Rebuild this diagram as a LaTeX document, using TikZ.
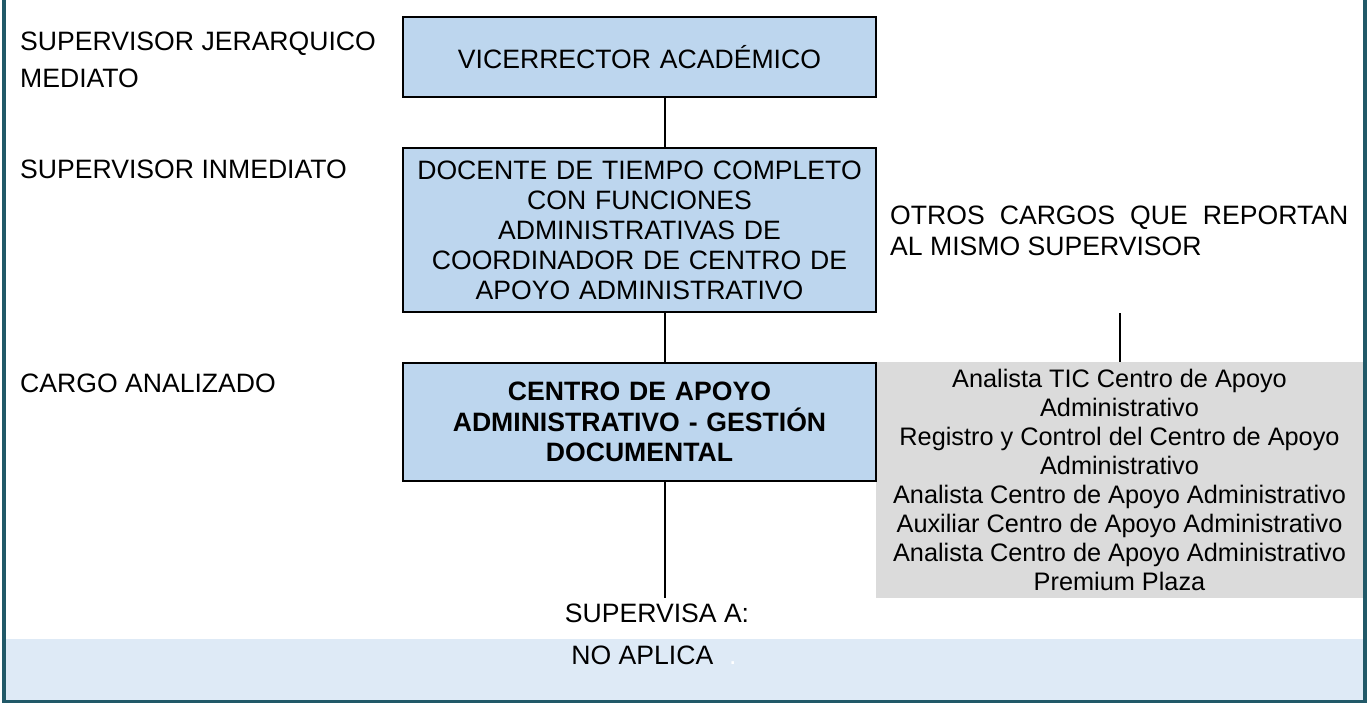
\documentclass[tikz,border=0pt]{standalone}
\usepackage{fontspec}
\setmainfont{Liberation Sans}
\usepackage{tikz}
\usetikzlibrary{positioning}
\definecolor{frameteal}{RGB}{33,89,104}
\definecolor{boxblue}{RGB}{189,214,238}
\definecolor{bandblue}{RGB}{222,234,246}
\definecolor{softgray}{RGB}{219,219,219}

\begin{document}
\begin{tikzpicture}[x=1pt, y=1pt,
  posbox/.style={draw=black, line width=2pt, fill=boxblue, text width=460pt, inner xsep=6.5pt, inner ysep=0pt, minimum width=473pt, align=center, font=\fontsize{26.6}{30}\selectfont},
  lbl/.style={inner sep=0pt, align=left, font=\fontsize{26.6}{37}\selectfont},
  link/.style={line width=2pt}]
  \useasboundingbox (0,0) rectangle (1367,702);
  % bottom band and frame
  \fill[bandblue] (6,2) rectangle (1363,63);
  \draw[frameteal, line width=4pt] (4,702) -- (4,0) -- (1365,0) -- (1365,702);
  % left column
  \node[lbl, anchor=north west] (mediato) at (20,670) {SUPERVISOR JERARQUICO\\MEDIATO};
  \node[lbl, anchor=base west] (inmediato) at (20,523) {SUPERVISOR INMEDIATO};
  \node[lbl, anchor=base west] (analizado) at (20,309) {CARGO ANALIZADO};
  % other positions
  \node[lbl, anchor=north west, font=\fontsize{26.6}{31}\selectfont] (otroscargos) at (890,496) {\makebox[458pt][s]{OTROS CARGOS QUE REPORTAN}\\AL MISMO SUPERVISOR};
  \node[fill=softgray, minimum width=487pt, minimum height=236pt, inner sep=0pt] (otros) at (1119.5,222) {};
  \node[below=7pt of otros.north, inner sep=0pt, align=center, font=\fontsize{25.3}{29}\selectfont] (otroslist) {Analista TIC Centro de Apoyo\\Administrativo\\Registro y Control del Centro de Apoyo\\Administrativo\\Analista Centro de Apoyo Administrativo\\Auxiliar Centro de Apoyo Administrativo\\Analista Centro de Apoyo Administrativo\\Premium Plaza};
  % chain of boxes
  \node[posbox, minimum height=80pt] (vicerrector) at (639.5,645) {VICERRECTOR ACADÉMICO};
  \node[posbox, minimum height=164pt] (docente) at (639.5,472) {DOCENTE DE TIEMPO COMPLETO\\CON FUNCIONES\\ADMINISTRATIVAS DE\\COORDINADOR DE CENTRO DE\\APOYO ADMINISTRATIVO};
  \node[posbox, minimum height=118pt, font=\fontsize{26.6}{30.5}\selectfont\bfseries] (cargo) at (639.5,280) {CENTRO DE APOYO\\ADMINISTRATIVO - GESTIÓN\\DOCUMENTAL};
  % connectors
  \coordinate (spine) at (665,0);
  \draw[link] (vicerrector.south -| spine) -- (docente.north -| spine);
  \draw[link] (docente.south -| spine) -- (cargo.north -| spine);
  \draw[link] (cargo.south -| spine) -- (spine |- otros.south);
  \draw[link] (otros.north) -- (otros.north |- docente.south);
  % supervised
  \node[lbl] (supervisa) at (657,89) {SUPERVISA A:};
  \node[lbl] (noaplica) at (654,47) {NO APLICA\hspace{0.6em}{\color{white}.}};
\end{tikzpicture}
\end{document}
